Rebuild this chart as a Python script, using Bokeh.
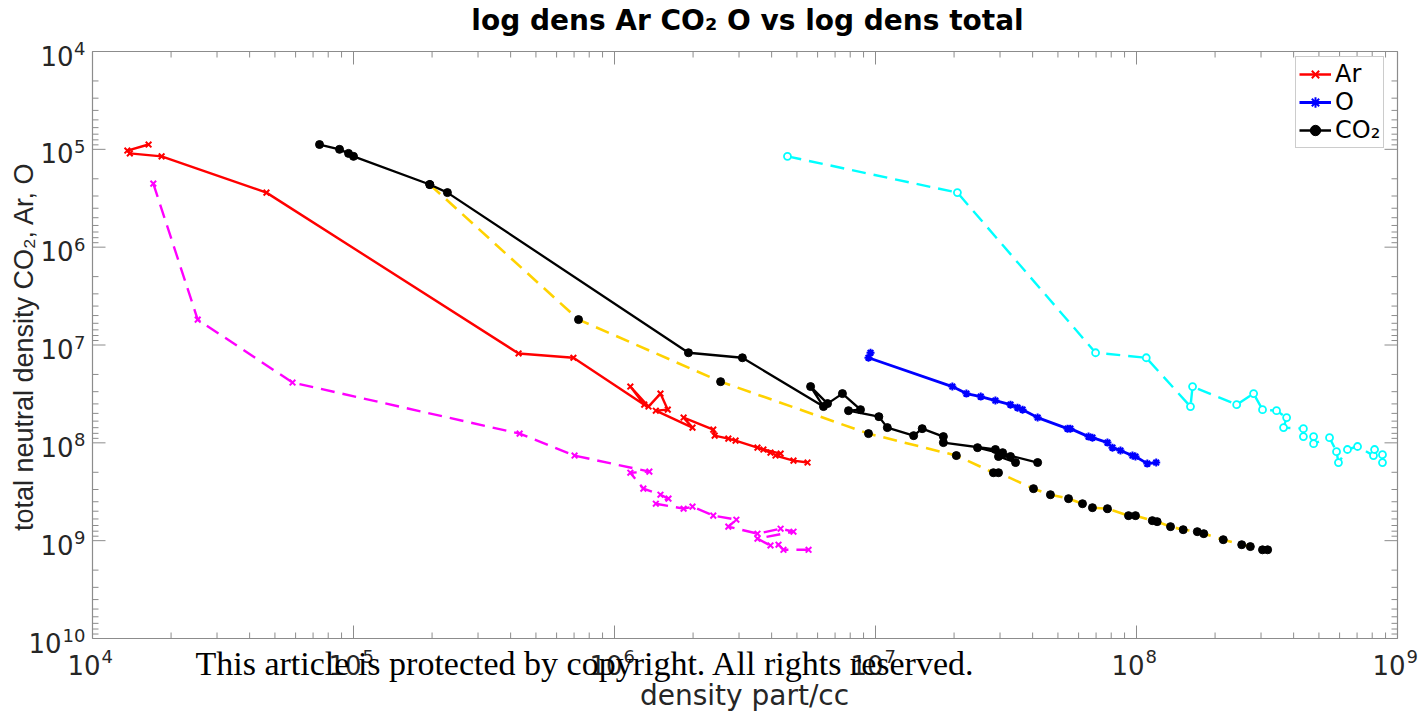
from math import pi, log10
from bokeh.plotting import figure
from bokeh.models import Range1d, Label, Legend, LegendItem
from bokeh.core.properties import value
from bokeh.embed import file_html
from bokeh.resources import INLINE

# ---------------- data (density part/cc  vs  total neutral density) ----------------
ar_density = [1.64e4, 1.36e4, 1.39e4, 1.84e4, 4.64e4, 4.29e5, 6.96e5, 1.30e6, 1.15e6, 1.35e6,
              1.50e6, 1.60e6, 1.44e6, 1.99e6, 1.84e6, 2.39e6, 2.42e6, 2.73e6, 2.91e6, 3.53e6,
              3.96e6, 3.72e6, 4.33e6, 4.14e6, 4.85e6, 5.49e6]
ar_total = [8.93e4, 1.03e5, 1.10e5, 1.18e5, 2.77e5, 1.22e7, 1.35e7, 4.07e7, 2.66e7, 4.26e7,
            3.14e7, 4.58e7, 4.69e7, 6.99e7, 5.52e7, 7.33e7, 8.44e7, 9.06e7, 9.49e7, 1.12e8,
            1.26e8, 1.17e8, 1.29e8, 1.35e8, 1.52e8, 1.59e8]

mag_density = [1.71e4, 2.53e4, 5.84e4, 4.33e5, 7.03e5, 1.36e6, 1.15e6, 1.29e6, 1.50e6, 1.61e6,
               1.44e6, 1.84e6, 1.99e6, 2.39e6, 2.93e6, 2.73e6, 3.53e6, 4.33e6, 4.85e6, 3.53e6,
               3.96e6, 4.25e6, 4.44e6, 5.54e6]
mag_total = [2.24e5, 5.50e6, 2.42e7, 8.05e7, 1.35e8, 1.97e8, 2.02e8, 2.94e8, 3.39e8, 3.72e8,
             4.19e8, 4.71e8, 4.49e8, 5.55e8, 6.10e8, 7.19e8, 8.48e8, 7.54e8, 8.09e8, 9.54e8,
             1.12e9, 1.10e9, 1.24e9, 1.24e9]

co2_density = [7.41e4, 8.84e4, 9.57e4, 1.00e5, 1.96e5, 2.29e5, 1.92e6, 3.09e6, 6.32e6, 5.64e6,
               6.55e6, 7.47e6, 8.76e6, 7.88e6, 1.03e7, 1.11e7, 1.40e7, 1.51e7, 1.82e7, 1.82e7,
               2.88e7, 3.29e7, 2.96e7, 3.44e7, 3.07e7, 2.46e7, 4.18e7]
co2_total = [8.93e4, 1.00e5, 1.10e5, 1.18e5, 2.29e5, 2.77e5, 1.20e7, 1.35e7, 4.26e7, 2.66e7,
             3.97e7, 3.14e7, 4.58e7, 4.69e7, 5.40e7, 6.99e7, 8.44e7, 7.16e7, 8.64e7, 9.95e7,
             1.17e8, 1.38e8, 1.38e8, 1.59e8, 1.26e8, 1.12e8, 1.59e8]

gold_density = [1.96e5, 7.28e5, 2.55e6, 9.40e6, 2.04e7, 2.83e7, 2.96e7, 4.03e7, 4.68e7, 5.49e7,
                6.21e7, 6.78e7, 7.74e7, 9.32e7, 9.91e7, 1.15e8, 1.20e8, 1.35e8, 1.51e8, 1.71e8,
                1.81e8, 2.15e8, 2.53e8, 2.73e8, 3.04e8, 3.18e8]
gold_total = [2.29e5, 5.50e6, 2.37e7, 8.05e7, 1.35e8, 2.02e8, 2.02e8, 2.94e8, 3.39e8, 3.72e8,
              4.19e8, 4.60e8, 4.71e8, 5.55e8, 5.55e8, 6.24e8, 6.39e8, 7.19e8, 7.72e8, 8.09e8,
              8.48e8, 9.77e8, 1.10e9, 1.15e9, 1.24e9, 1.24e9]

o_density = [9.57e6, 9.40e6, 1.97e7, 2.23e7, 2.53e7, 2.88e7, 3.29e7, 3.50e7, 3.66e7, 4.18e7,
             5.44e7, 5.58e7, 6.55e7, 6.78e7, 7.74e7, 8.09e7, 8.68e7, 9.65e7, 9.91e7, 1.10e8,
             1.19e8]
o_total = [1.20e7, 1.35e7, 2.66e7, 3.14e7, 3.37e7, 3.70e7, 4.07e7, 4.37e7, 4.58e7, 5.52e7,
           7.16e7, 7.16e7, 8.64e7, 8.85e7, 9.95e7, 1.12e8, 1.20e8, 1.35e8, 1.38e8, 1.63e8,
           1.59e8]

cy_density = [4.60e6, 2.06e7, 6.97e7, 1.09e8, 1.61e8, 1.64e8, 2.42e8, 2.81e8, 3.04e8, 3.44e8,
              3.76e8, 3.66e8, 4.36e8, 4.36e8, 4.77e8, 4.77e8, 5.49e8, 5.84e8, 5.94e8, 6.43e8,
              7.03e8, 8.09e8, 8.17e8, 8.76e8, 8.76e8]
cy_total = [1.18e5, 2.77e5, 1.20e7, 1.35e7, 4.26e7, 2.66e7, 4.07e7, 3.14e7, 4.58e7, 4.69e7,
            5.52e7, 6.99e7, 7.16e7, 8.64e7, 8.64e7, 1.02e8, 8.85e7, 1.23e8, 1.59e8, 1.17e8,
            1.09e8, 1.35e8, 1.17e8, 1.32e8, 1.59e8]

# axis ticks and tick labels (10^exp)
x_ticks = [1e4, 1e5, 1e6, 1e7, 1e8, 1e9]
x_tick_exp = ["4", "5", "6", "7", "8", "9"]
y_ticks = [1e4, 1e5, 1e6, 1e7, 1e8, 1e9, 1e10]
y_tick_exp = ["4", "5", "6", "7", "8", "9", "10"]

title_text = "log dens Ar CO\u2082 O vs log dens total"
x_label = "density part/cc"
y_label = "total neutral density CO\u2082, Ar, O"
watermark = "This article is protected by copyright. All rights reserved."

# ---------------- layout ----------------
W, H = 1420, 713
X_LO, X_HI = x_ticks[0], x_ticks[-1]
Y_TOP, Y_BOT = y_ticks[0], y_ticks[-1]
BOX_L, BOX_R, BOX_T, BOX_B = 92, 1397, 51, 638          # axes box on the canvas (px)
dec_x = (BOX_R - BOX_L) / (log10(X_HI) - log10(X_LO))
dec_y = (BOX_B - BOX_T) / (log10(Y_BOT) - log10(Y_TOP))
x_range = Range1d(10 ** (log10(X_LO) - BOX_L / dec_x), 10 ** (log10(X_HI) + (W - BOX_R) / dec_x))
y_range = Range1d(10 ** (log10(Y_BOT) + (H - BOX_B) / dec_y), 10 ** (log10(Y_TOP) - BOX_T / dec_y))

p = figure(width=W, height=H, x_axis_type="log", y_axis_type="log",
           x_axis_location=None, y_axis_location=None,
           x_range=x_range, y_range=y_range, min_border=0,
           output_backend="svg", toolbar_location=None, title=None)
p.grid.visible = False
p.outline_line_color = None
p.background_fill_color = "white"
p.border_fill_color = "white"

AX = "#8c8c8c"
TXT = "#262626"
FONT = value("DejaVu Sans")

# axes box
p.segment(x0=[X_LO, X_LO, X_LO, X_HI], y0=[Y_BOT, Y_TOP, Y_TOP, Y_TOP],
          x1=[X_HI, X_HI, X_LO, X_HI], y1=[Y_BOT, Y_TOP, Y_BOT, Y_BOT],
          line_color=AX, line_width=1.2)

x_minor = [m * t for t in x_ticks[:-1] for m in range(2, 10)]
y_minor = [m * t for t in y_ticks[:-1] for m in range(2, 10)]
for xs, ln in ((x_ticks, 13), (x_minor, 6)):
    p.ray(x=xs, y=[Y_BOT] * len(xs), length=ln, length_units="screen", angle=pi / 2,
          line_color=AX, line_width=1)
    p.ray(x=xs, y=[Y_TOP] * len(xs), length=ln, length_units="screen", angle=-pi / 2,
          line_color=AX, line_width=1)
for ys, ln in ((y_ticks, 13), (y_minor, 6)):
    p.ray(x=[X_LO] * len(ys), y=ys, length=ln, length_units="screen", angle=0,
          line_color=AX, line_width=1)
    p.ray(x=[X_HI] * len(ys), y=ys, length=ln, length_units="screen", angle=pi,
          line_color=AX, line_width=1)

# tick labels: base "10" plus raised exponent
BASE_FS, EXP_FS = "26px", "18px"
p.text(x=x_ticks, y=[Y_BOT] * len(x_ticks), text=["10"] * len(x_ticks), text_align="right",
       text_baseline="alphabetic", x_offset=8, y_offset=26, text_font=FONT,
       text_font_size=BASE_FS, text_color=TXT)
p.text(x=x_ticks, y=[Y_BOT] * len(x_ticks), text=x_tick_exp, text_align="left",
       text_baseline="alphabetic", x_offset=9, y_offset=18, text_font=FONT,
       text_font_size=EXP_FS, text_color=TXT)
p.text(x=[X_LO] * len(y_ticks), y=y_ticks, text=y_tick_exp, text_align="right",
       text_baseline="alphabetic", x_offset=-7, y_offset=-3, text_font=FONT,
       text_font_size=EXP_FS, text_color=TXT)
for ndig, off in ((1, -19), (2, -31)):
    ys = [t for t, e in zip(y_ticks, y_tick_exp) if len(e) == ndig]
    p.text(x=[X_LO] * len(ys), y=ys, text=["10"] * len(ys), text_align="right",
           text_baseline="alphabetic", x_offset=off, y_offset=4, text_font=FONT,
           text_font_size=BASE_FS, text_color=TXT)

# ---------------- series ----------------
DASH = "14 8"
mag_l = p.line(mag_density, mag_total, line_color="#ff00ff", line_width=2.4, line_dash=DASH)
mag_m = p.scatter(mag_density, mag_total, marker="x", size=8, line_color="#ff00ff", line_width=2)

cy_l = p.line(cy_density, cy_total, line_color="#00ffff", line_width=2.4, line_dash=DASH)
cy_m = p.scatter(cy_density, cy_total, marker="circle", size=7, line_color="#00ffff",
                 fill_color="white", line_width=1.8)

ar_l = p.line(ar_density, ar_total, line_color="#ff0000", line_width=2.4)
ar_m = p.scatter(ar_density, ar_total, marker="x", size=8, line_color="#ff0000", line_width=2)

o_l = p.line(o_density, o_total, line_color="#0000ff", line_width=2.8)
o_m = p.scatter(o_density, o_total, marker="asterisk", size=8, line_color="#0000ff", line_width=2)

gold_l = p.line(gold_density, gold_total, line_color="#ffd200", line_width=2.6, line_dash=DASH)
gold_m = p.scatter(gold_density, gold_total, marker="circle", size=8, line_color="black",
                   fill_color="black")

co2_l = p.line(co2_density, co2_total, line_color="black", line_width=2.3)
co2_m = p.scatter(co2_density, co2_total, marker="circle", size=8, line_color="black",
                  fill_color="black")

legend = Legend(items=[LegendItem(label="Ar", renderers=[ar_l, ar_m]),
                       LegendItem(label="O", renderers=[o_l, o_m]),
                       LegendItem(label="CO\u2082", renderers=[co2_l, co2_m])],
                location=(1295, H - 148), orientation="vertical")
legend.label_text_font = "DejaVu Sans"
legend.label_text_font_size = "24px"
legend.label_text_color = "black"
legend.glyph_width = 32
legend.glyph_height = 26
legend.label_height = 26
legend.label_standoff = 4
legend.spacing = 0
legend.padding = 3
legend.margin = 0
legend.border_line_color = "#9a9a9a"
legend.border_line_width = 1
legend.background_fill_color = "white"
legend.background_fill_alpha = 1
p.add_layout(legend)


def add_label(text, cx, cy, **kw):
    # frame covers the whole canvas: screen units measured from its bottom-left corner
    p.add_layout(Label(x=cx, y=H - cy, x_units="screen", y_units="screen", text=text, **kw))


add_label(title_text, 747, 20, text_align="center", text_baseline="alphabetic",
          text_font="DejaVu Sans", text_font_size="28px", text_font_style="bold", text_color="black")
add_label(x_label, 744, 695, text_align="center", text_baseline="alphabetic",
          text_font="DejaVu Sans", text_font_size="28px", text_color=TXT)
add_label(y_label, 23, 346, angle=pi / 2, text_align="center", text_baseline="alphabetic",
          text_font="Liberation Sans", text_font_size="27px", text_color=TXT)
add_label(watermark, 195, 663, text_align="left", text_baseline="alphabetic",
          text_font="Liberation Serif", text_font_size="34px", text_color="black")

open("out.html", "w").write(file_html(p, INLINE))
